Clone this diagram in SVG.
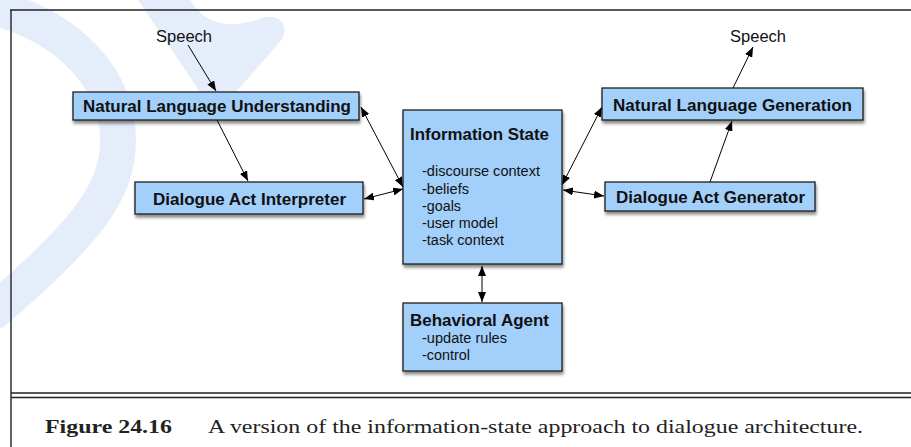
<svg xmlns="http://www.w3.org/2000/svg" width="911" height="447" viewBox="0 0 911 447">
  <style>
    .box { fill: #a3cffb; stroke: #1e1e1e; stroke-width: 1.3; filter: url(#shadow); }
    .title { font-family: "Liberation Sans", Arial, Helvetica, sans-serif; font-weight: bold; font-size: 16.5px; fill: #111; }
    .item { font-family: "Liberation Sans", Arial, Helvetica, sans-serif; font-size: 14px; fill: #111; }
    .speech { font-family: "Liberation Sans", Arial, Helvetica, sans-serif; font-size: 16px; fill: #111; }
    .conn { stroke: #000; stroke-width: 1; fill: none; }
    .one { marker-end: url(#arrow); }
    .two { marker-start: url(#arrow); marker-end: url(#arrow); }
    .frame { stroke: #222; stroke-width: 1.4; fill: none; }
    .cap { font-family: "Liberation Serif", "Times New Roman", Times, serif; font-size: 19.5px; fill: #222; }
    .wm { fill: none; stroke: #e5edfb; }
  </style>
  <defs>
    <marker id="arrow" viewBox="0 0 10 8" refX="10" refY="4" markerWidth="10" markerHeight="8" markerUnits="userSpaceOnUse" orient="auto-start-reverse">
      <path d="M0,0 L10,4 L0,8 Z" fill="#000"/>
    </marker>
    <filter id="shadow" x="-10%" y="-10%" width="125%" height="140%">
      <feDropShadow dx="1" dy="3" stdDeviation="1.5" flood-color="#000" flood-opacity="0.45"/>
    </filter>
  </defs>

  <rect x="0" y="0" width="911" height="447" fill="#fff"/>

  <!-- watermark -->
  <g id="watermark">
    <path class="wm" stroke-width="36" d="M -15,5 C 70,25 118,80 118,140 C 118,190 90,230 -10,315"/>
    <path d="M 138,0 L 190,0 C 205,25 230,30 262,18 C 282,12 292,30 278,44 L 236,92 L 200,92 Z" fill="#e5edfb"/>
  </g>

  <!-- frame -->
  <g id="frame">
    <path class="frame" d="M 10,10 L 911,10 M 11,10 L 11,447"/>
    <path class="frame" d="M 11,393 L 911,393 M 11,397.5 L 911,397.5"/>
  </g>

  <!-- connectors -->
  <g id="connectors">
    <line class="conn one" x1="188" y1="45" x2="216" y2="91"/>
    <line class="conn one" x1="217" y1="120" x2="248" y2="181"/>
    <line class="conn two" x1="361" y1="107" x2="403" y2="187"/>
    <line class="conn two" x1="364" y1="199" x2="403" y2="189"/>
    <line class="conn two" x1="562" y1="185" x2="602" y2="107"/>
    <line class="conn two" x1="563" y1="190" x2="604" y2="196"/>
    <line class="conn one" x1="710" y1="182" x2="732" y2="121"/>
    <line class="conn one" x1="733" y1="88" x2="753" y2="47"/>
    <line class="conn two" x1="482" y1="266" x2="482" y2="302"/>
  </g>

  <!-- speech labels -->
  <g id="speech-in">
    <text class="speech" x="156" y="42" textLength="56" lengthAdjust="spacingAndGlyphs">Speech</text>
  </g>
  <g id="speech-out">
    <text class="speech" x="730" y="42" textLength="56" lengthAdjust="spacingAndGlyphs">Speech</text>
  </g>

  <g id="nlu">
    <rect class="box" x="73" y="92" width="286" height="28"/>
    <text class="title" x="83" y="112" textLength="268" lengthAdjust="spacingAndGlyphs">Natural Language Understanding</text>
  </g>

  <g id="dai">
    <rect class="box" x="135" y="182" width="228" height="32"/>
    <text class="title" x="153" y="205" textLength="193" lengthAdjust="spacingAndGlyphs">Dialogue Act Interpreter</text>
  </g>

  <g id="info-state">
    <rect class="box" x="403" y="110" width="159" height="154"/>
    <text class="title" x="410" y="140" textLength="139" lengthAdjust="spacingAndGlyphs">Information State</text>
    <text class="item" x="422" y="176" textLength="118" lengthAdjust="spacingAndGlyphs">-discourse context</text>
    <text class="item" x="422" y="194" textLength="47" lengthAdjust="spacingAndGlyphs">-beliefs</text>
    <text class="item" x="422" y="211" textLength="39" lengthAdjust="spacingAndGlyphs">-goals</text>
    <text class="item" x="422" y="228" textLength="76" lengthAdjust="spacingAndGlyphs">-user model</text>
    <text class="item" x="422" y="245" textLength="82" lengthAdjust="spacingAndGlyphs">-task context</text>
  </g>

  <g id="nlg">
    <rect class="box" x="602" y="88" width="261" height="32"/>
    <text class="title" x="613" y="111" textLength="239" lengthAdjust="spacingAndGlyphs">Natural Language Generation</text>
  </g>

  <g id="dag">
    <rect class="box" x="605" y="182" width="210" height="29"/>
    <text class="title" x="616" y="203" textLength="189" lengthAdjust="spacingAndGlyphs">Dialogue Act Generator</text>
  </g>

  <g id="behavioral-agent">
    <rect class="box" x="403" y="303" width="159" height="68"/>
    <text class="title" x="410" y="326" textLength="139" lengthAdjust="spacingAndGlyphs">Behavioral Agent</text>
    <text class="item" x="422" y="343" textLength="85" lengthAdjust="spacingAndGlyphs">-update rules</text>
    <text class="item" x="422" y="360" textLength="48" lengthAdjust="spacingAndGlyphs">-control</text>
  </g>

  <g id="caption">
    <text class="cap" x="45" y="433" font-weight="bold" textLength="127" lengthAdjust="spacingAndGlyphs">Figure 24.16</text>
    <text class="cap" x="208" y="433" textLength="655" lengthAdjust="spacingAndGlyphs">A version of the information-state approach to dialogue architecture.</text>
  </g>
</svg>
